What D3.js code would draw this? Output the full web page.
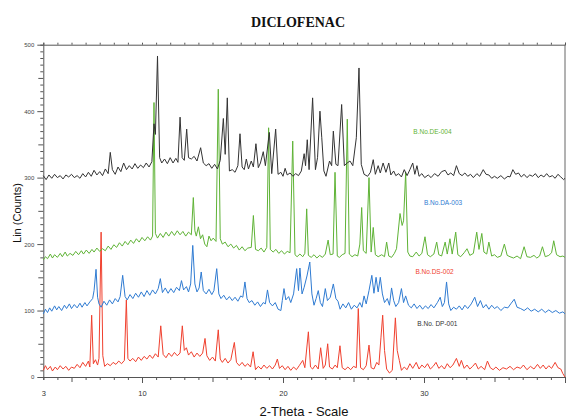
<!DOCTYPE html>
<html>
<head>
<meta charset="utf-8">
<script src="https://cdn.jsdelivr.net/npm/d3@7"></script>
<style>
  body { margin: 0; background: #fff; }
  text { font-family: "Liberation Sans", Arial, sans-serif; }
</style>
</head>
<body>
<script>
var titleText = "DICLOFENAC";
var xTickValues = [3, 10, 20, 30];
var yTickValues = [0, 100, 200, 300, 400, 500];
var seriesNames = ["B.No. DP-001", "B.No.DE-004", "B.No.DA-003", "B.No.DS-002"];
var seriesColors = ["#333333", "#5fb336", "#2f7bd2", "#f0402e"];

var dp001 = [[3,303],[3.2,297],[3.4,304],[3.6,299],[3.8,305],[4.0,300],[4.2,303],[4.4,298],[4.6,304],[4.8,301],[5.0,305],[5.2,300],[5.4,303],[5.6,299],[5.8,306],[6.0,301],[6.2,308],[6.4,302],[6.6,311],[6.8,304],[7.0,309],[7.2,303],[7.4,313],[7.6,306],[7.75,338],[7.9,312],[8.1,305],[8.3,316],[8.5,309],[8.7,322],[8.9,312],[9.1,318],[9.3,313],[9.5,321],[9.7,314],[9.9,319],[10.1,315],[10.3,322],[10.5,316],[10.7,324],[10.85,381],[10.95,365],[11.1,483],[11.25,330],[11.4,322],[11.6,328],[11.8,321],[12.0,330],[12.2,322],[12.4,329],[12.55,323],[12.7,391],[12.85,330],[13.0,326],[13.17,373],[13.3,330],[13.5,328],[13.7,332],[13.9,325],[14.16,345],[14.35,322],[14.55,318],[14.75,321],[14.95,314],[15.15,320],[15.35,313],[15.55,326],[15.77,389],[15.9,335],[16.05,420],[16.2,310],[16.4,312],[16.6,308],[16.8,318],[16.95,366],[17.1,316],[17.25,312],[17.4,328],[17.55,313],[17.75,325],[17.9,316],[18.08,351],[18.25,315],[18.4,322],[18.6,339],[18.75,318],[19.03,368],[19.2,306],[19.48,373],[19.65,305],[19.85,308],[20.0,302],[20.15,314],[20.3,304],[20.5,307],[20.7,302],[20.9,306],[21.1,303],[21.3,310],[21.5,336],[21.6,318],[21.72,357],[21.85,312],[22.1,420],[22.3,312],[22.45,330],[22.62,400],[22.75,360],[22.9,310],[23.05,302],[23.3,325],[23.45,318],[23.57,370],[23.75,320],[23.9,318],[24.16,410],[24.35,318],[24.55,322],[24.75,325],[24.95,318],[25.2,360],[25.39,465],[25.55,320],[25.75,305],[26.0,302],[26.2,308],[26.4,327],[26.55,305],[26.75,318],[26.9,307],[27.1,322],[27.3,308],[27.5,322],[27.65,304],[27.85,310],[28.0,303],[28.2,306],[28.4,301],[28.6,312],[28.8,303],[29.0,312],[29.2,322],[29.35,305],[29.5,318],[29.65,302],[29.85,306],[30.05,300],[30.3,304],[30.5,300],[30.75,306],[31.0,302],[31.25,309],[31.5,311],[31.7,304],[31.9,307],[32.1,303],[32.3,318],[32.5,306],[32.7,303],[32.9,307],[33.1,302],[33.3,305],[33.5,300],[33.75,306],[33.95,302],[34.2,312],[34.4,305],[34.6,304],[34.8,299],[35.0,302],[35.2,299],[35.45,303],[35.7,298],[35.95,302],[36.1,301],[36.3,312],[36.5,305],[36.7,307],[36.9,301],[37.1,305],[37.3,300],[37.5,304],[37.7,302],[37.9,306],[38.1,300],[38.3,304],[38.5,301],[38.7,306],[38.9,301],[39.1,303],[39.3,299],[39.5,305],[39.7,301],[39.9,297],[40,299]];

var de004 = [[3,176],[3.15,181],[3.3,178],[3.5,185],[3.65,179],[3.8,184],[4.0,180],[4.2,186],[4.35,181],[4.55,188],[4.7,182],[4.9,186],[5.1,183],[5.3,189],[5.5,184],[5.7,190],[5.85,185],[6.05,191],[6.25,186],[6.45,192],[6.6,188],[6.8,194],[7.0,189],[7.2,193],[7.4,190],[7.6,197],[7.8,192],[8.0,199],[8.2,195],[8.4,202],[8.6,197],[8.8,204],[9.0,199],[9.2,206],[9.4,201],[9.6,208],[9.8,203],[10.0,210],[10.2,205],[10.4,211],[10.6,206],[10.75,212],[10.85,413],[10.95,216],[11.1,209],[11.3,216],[11.5,210],[11.7,218],[11.9,212],[12.1,219],[12.3,213],[12.5,220],[12.7,214],[12.9,219],[13.1,212],[13.3,218],[13.5,214],[13.64,270],[13.75,220],[13.85,212],[14.0,226],[14.15,208],[14.3,214],[14.45,200],[14.6,196],[14.75,212],[14.9,205],[15.05,209],[15.25,204],[15.41,433],[15.55,208],[15.7,200],[15.9,203],[16.1,196],[16.3,200],[16.5,194],[16.7,198],[16.9,191],[17.1,196],[17.3,190],[17.5,194],[17.75,195],[17.9,243],[18.05,192],[18.25,190],[18.45,194],[18.65,188],[18.85,195],[18.98,375],[19.1,192],[19.3,188],[19.5,192],[19.7,186],[19.9,190],[20.1,185],[20.3,189],[20.5,187],[20.69,355],[20.85,184],[21.0,181],[21.2,185],[21.4,181],[21.55,186],[21.68,253],[21.8,183],[22.0,180],[22.2,184],[22.4,179],[22.6,183],[22.8,180],[23.0,185],[23.2,206],[23.35,184],[23.55,185],[23.69,308],[23.85,182],[24.0,180],[24.2,184],[24.4,186],[24.56,388],[24.7,185],[24.9,181],[25.1,184],[25.3,182],[25.45,200],[25.58,255],[25.7,190],[25.9,186],[26.1,300],[26.25,188],[26.4,225],[26.55,184],[26.75,181],[27.0,184],[27.2,181],[27.35,203],[27.5,182],[27.7,180],[27.9,186],[28.05,193],[28.3,246],[28.45,228],[28.55,235],[28.7,308],[28.85,188],[29.0,182],[29.2,181],[29.45,188],[29.65,182],[29.85,186],[30.07,211],[30.25,184],[30.45,181],[30.7,185],[30.9,203],[31.05,184],[31.25,182],[31.5,203],[31.65,185],[31.84,208],[32.0,185],[32.25,218],[32.4,184],[32.6,181],[32.85,187],[33.05,193],[33.25,183],[33.5,186],[33.74,218],[33.9,192],[34.1,216],[34.25,188],[34.45,185],[34.6,203],[34.8,182],[35.0,184],[35.2,180],[35.45,182],[35.7,200],[35.9,183],[36.1,181],[36.35,179],[36.6,182],[36.85,178],[37.1,196],[37.3,181],[37.55,180],[37.8,183],[38.0,179],[38.2,182],[38.4,196],[38.6,181],[38.85,183],[39.05,187],[39.2,205],[39.4,184],[39.65,181],[39.85,182],[40,180]];

var da003 = [[3,95],[3.15,102],[3.3,97],[3.45,104],[3.6,99],[3.8,107],[3.95,101],[4.1,106],[4.3,100],[4.5,108],[4.65,103],[4.85,110],[5.0,103],[5.2,109],[5.4,104],[5.6,111],[5.75,105],[5.95,112],[6.1,107],[6.3,113],[6.5,118],[6.6,130],[6.74,162],[6.85,120],[6.95,110],[7.1,105],[7.3,114],[7.5,108],[7.7,116],[7.9,110],[8.1,118],[8.3,113],[8.45,121],[8.63,153],[8.8,121],[8.95,116],[9.15,124],[9.35,118],[9.55,126],[9.75,120],[9.95,128],[10.15,121],[10.35,130],[10.55,123],[10.75,131],[10.95,125],[11.15,133],[11.3,148],[11.45,127],[11.65,134],[11.85,126],[12.05,133],[12.25,127],[12.45,135],[12.65,130],[12.8,145],[12.95,131],[13.15,136],[13.3,128],[13.45,140],[13.6,198],[13.75,140],[13.9,128],[14.05,134],[14.2,158],[14.35,130],[14.55,125],[14.75,132],[14.95,124],[15.1,130],[15.3,163],[15.45,125],[15.6,118],[15.8,123],[16.0,116],[16.2,121],[16.4,115],[16.6,120],[16.8,114],[17.0,122],[17.15,120],[17.3,143],[17.45,118],[17.6,112],[17.8,115],[18.0,108],[18.2,113],[18.4,106],[18.6,112],[18.75,110],[18.9,131],[19.05,112],[19.25,107],[19.45,112],[19.65,102],[19.85,100],[19.95,115],[20.07,133],[20.2,116],[20.4,121],[20.55,112],[20.75,125],[20.97,163],[21.1,130],[21.2,164],[21.35,125],[21.5,135],[21.7,152],[21.9,173],[22.05,125],[22.2,108],[22.35,118],[22.5,130],[22.65,112],[22.8,106],[23.0,133],[23.15,115],[23.35,120],[23.57,140],[23.75,118],[23.9,114],[24.05,102],[24.25,110],[24.45,104],[24.65,112],[24.85,102],[25.05,108],[25.25,104],[25.45,112],[25.6,105],[25.75,122],[25.9,110],[26.1,130],[26.3,153],[26.45,126],[26.6,150],[26.75,128],[26.9,150],[27.05,125],[27.2,112],[27.4,118],[27.55,108],[27.7,134],[27.85,115],[28.0,106],[28.2,112],[28.4,133],[28.55,112],[28.7,122],[28.9,108],[29.1,104],[29.3,110],[29.5,103],[29.7,108],[29.9,102],[30.1,107],[30.3,103],[30.5,109],[30.7,104],[30.95,112],[31.15,120],[31.3,106],[31.45,112],[31.6,143],[31.75,110],[31.9,100],[32.1,105],[32.3,102],[32.5,107],[32.7,101],[32.9,108],[33.1,103],[33.35,110],[33.6,120],[33.8,106],[34.0,115],[34.2,104],[34.4,109],[34.6,102],[34.8,108],[35.0,103],[35.2,106],[35.45,100],[35.7,105],[35.95,104],[36.15,110],[36.4,117],[36.6,105],[36.85,103],[37.1,100],[37.35,104],[37.6,99],[37.85,102],[38.1,98],[38.35,102],[38.6,97],[38.85,101],[39.1,97],[39.35,100],[39.6,96],[39.85,98],[40,95]];

var ds002 = [[3,10],[3.15,17],[3.3,11],[3.5,16],[3.65,9],[3.85,15],[4.0,11],[4.2,17],[4.4,12],[4.6,16],[4.8,10],[5.0,15],[5.2,13],[5.4,19],[5.6,14],[5.8,22],[6.0,16],[6.2,24],[6.3,15],[6.43,93],[6.55,20],[6.7,26],[6.85,18],[6.95,28],[7.1,218],[7.22,32],[7.35,16],[7.55,20],[7.75,17],[7.95,22],[8.15,19],[8.35,24],[8.55,20],[8.75,25],[8.89,116],[9.0,28],[9.15,24],[9.35,28],[9.55,23],[9.75,30],[9.95,25],[10.15,31],[10.35,27],[10.55,33],[10.75,28],[10.95,35],[11.15,30],[11.33,77],[11.5,34],[11.7,29],[11.9,36],[12.1,31],[12.3,37],[12.5,32],[12.7,36],[12.86,77],[13.0,40],[13.15,44],[13.3,33],[13.5,38],[13.7,30],[13.9,36],[14.1,31],[14.3,36],[14.47,58],[14.6,32],[14.8,25],[15.0,30],[15.2,24],[15.41,71],[15.55,27],[15.7,22],[15.9,28],[16.1,21],[16.3,26],[16.55,52],[16.7,22],[16.9,17],[17.1,22],[17.3,16],[17.5,20],[17.7,15],[17.88,38],[18.05,11],[18.25,16],[18.45,12],[18.65,18],[18.85,13],[19.05,17],[19.25,12],[19.45,18],[19.6,27],[19.75,13],[19.95,17],[20.15,11],[20.35,16],[20.55,10],[20.75,15],[20.95,11],[21.15,17],[21.4,25],[21.55,14],[21.8,68],[21.95,15],[22.1,12],[22.3,18],[22.5,12],[22.67,44],[22.85,13],[23.0,18],[23.17,50],[23.3,15],[23.5,12],[23.7,18],[23.85,14],[24.04,47],[24.2,14],[24.4,11],[24.6,15],[24.8,11],[25.0,16],[25.2,14],[25.34,103],[25.5,14],[25.7,11],[25.9,17],[26.1,48],[26.25,14],[26.45,12],[26.65,22],[26.8,18],[26.95,60],[27.07,93],[27.2,40],[27.35,12],[27.55,6],[27.75,10],[27.97,89],[28.1,40],[28.25,25],[28.4,10],[28.6,15],[28.8,11],[29.0,20],[29.2,13],[29.45,22],[29.65,12],[29.85,18],[30.05,14],[30.25,20],[30.45,12],[30.65,16],[30.85,22],[31.05,13],[31.25,17],[31.45,12],[31.65,20],[31.85,14],[32.05,18],[32.3,28],[32.5,16],[32.65,25],[32.85,13],[33.05,18],[33.25,12],[33.45,16],[33.65,21],[33.85,12],[34.05,16],[34.3,11],[34.5,24],[34.7,14],[34.9,11],[35.1,15],[35.35,10],[35.6,14],[35.85,12],[36.1,16],[36.35,11],[36.6,15],[36.85,13],[37.05,18],[37.3,11],[37.55,16],[37.8,12],[38.05,19],[38.25,13],[38.45,18],[38.65,12],[38.85,17],[39.05,13],[39.3,22],[39.5,14],[39.7,12],[39.85,5],[40,0]];

var allSeries = [dp001, de004, da003, ds002];
// posicao dos rotulos de cada amostra (2-theta, contagens)
var labelPos = [[30.95, 76], [30.6, 366], [31.35, 259], [30.75, 155]];

//Dimensões
var width = 568, height = 420;
var margin = {left: 43.3, right: 3, top: 44.7, bottom: 43};

var svg = d3.select("body").append("svg").attr("width", width).attr("height", height);

var x = d3.scaleLinear().domain([3, 40]).range([margin.left, width - margin.right]);
var y = d3.scaleLinear().domain([0, 500]).range([height - margin.bottom, margin.top]);

//Titulo
svg.append("text").attr("x", 298).attr("y", 27).attr("text-anchor", "middle")
    .style("font-family", "'Liberation Serif', 'Times New Roman', serif")
    .style("font-weight", "bold").style("font-size", "14px").attr("fill", "#111")
    .text(titleText);

//Eixo x com ticks a cada grau
var xAxis = d3.axisBottom(x).tickValues(d3.range(3, 41, 1)).tickSize(3)
    .tickFormat(function(d) { return xTickValues.indexOf(d) >= 0 ? d : ""; });
var gx = svg.append("g").attr("transform", "translate(0," + y(0) + ")").call(xAxis);
gx.selectAll(".tick line").attr("y2", function(d) { return d % 10 == 0 ? 6 : (d % 5 == 0 ? 5 : 3); });
gx.selectAll("text").attr("y", 14).style("font-size", "7.5px").attr("fill", "#333");

//Eixo de cima
var gxTop = svg.append("g").attr("transform", "translate(0," + y(500) + ")")
    .call(d3.axisTop(x).tickValues(d3.range(3, 41, 1)).tickSize(2).tickFormat(""));

//Eixo y com ticks menores a cada 10
var yAxis = d3.axisLeft(y).tickValues(d3.range(0, 501, 10)).tickSize(3)
    .tickFormat(function(d) { return yTickValues.indexOf(d) >= 0 ? d : ""; });
var gy = svg.append("g").attr("transform", "translate(" + x(3) + ",0)").call(yAxis);
gy.selectAll(".tick line").attr("x2", function(d) { return d % 100 == 0 ? -6 : (d % 50 == 0 ? -5 : -3); });
gy.selectAll("text").attr("x", -9).style("font-size", "6px").attr("fill", "#444");

//Borda da direita
svg.append("line").attr("x1", x(40)).attr("x2", x(40)).attr("y1", y(500)).attr("y2", y(0))
    .attr("stroke", "#666").attr("stroke-width", 1);

svg.selectAll(".domain").attr("stroke", "#555");
svg.selectAll(".tick line").attr("stroke", "#555");

//Curvas
var line = d3.line().x(function(d) { return x(d[0]); }).y(function(d) { return y(d[1]); });

// desenhar de baixo para cima, preto por cima
for (let i = allSeries.length - 1; i >= 0; i--)
{
    svg.append("path").datum(allSeries[i]).attr("d", line)
        .attr("fill", "none").attr("stroke", seriesColors[i]).attr("stroke-width", 1)
        .attr("stroke-linejoin", "round");
}

//Rotulos das amostras
for (let i = 0; i < seriesNames.length; i++)
{
    svg.append("text").attr("x", x(labelPos[i][0])).attr("y", y(labelPos[i][1]))
        .attr("text-anchor", "middle").style("font-size", "6.5px").attr("fill", seriesColors[i])
        .text(seriesNames[i]);
}

//Titulos dos eixos
svg.append("text").attr("x", 304).attr("y", 416).attr("text-anchor", "middle")
    .style("font-size", "13px").attr("fill", "#111").text("2-Theta - Scale");

svg.append("text").attr("transform", "translate(21,213) rotate(-90)").attr("text-anchor", "middle")
    .style("font-size", "11px").attr("fill", "#111").text("Lin (Counts)");
</script>
</body>
</html>
